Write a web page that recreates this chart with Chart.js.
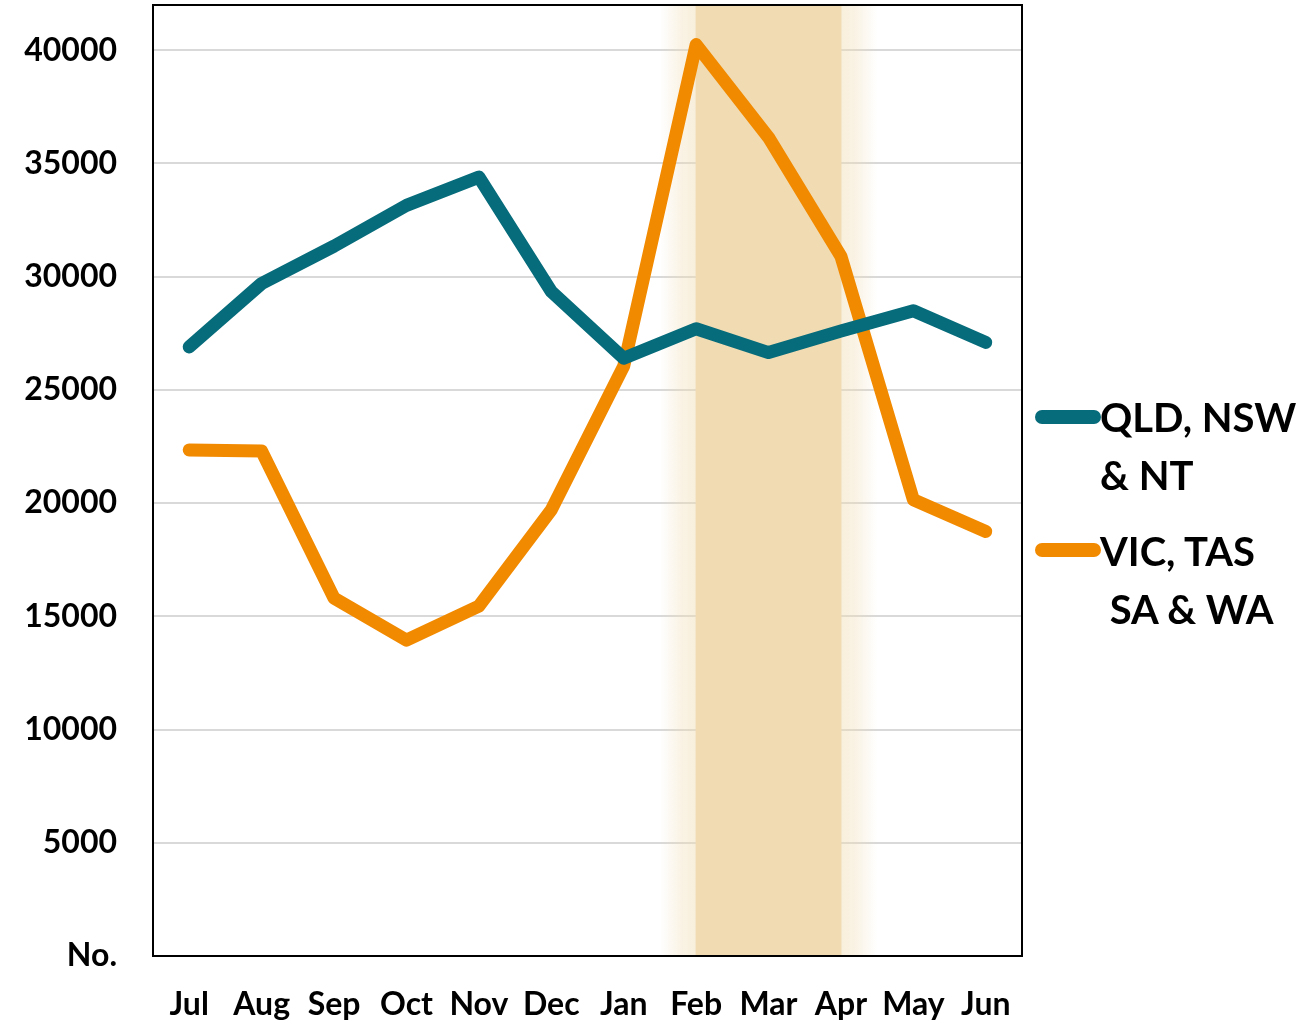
<!DOCTYPE html>
<html>
<head>
<meta charset="utf-8">
<script src="https://cdn.jsdelivr.net/npm/chart.js@4.4.0/dist/chart.umd.min.js"></script>
<style>
  html, body { margin: 0; padding: 0; background: #fff; }
  #wrap { position: relative; width: 1312px; height: 1023px; }
  canvas { position: absolute; left: 0; top: 0; }
  .leg { position: absolute; font-family: Lato, sans-serif; font-weight: 700; font-size: 40px; color: #000; white-space: pre; line-height: 58px; }
  .sw { position: absolute; height: 14px; border-radius: 7px; width: 66px; }
</style>
</head>
<body>
<div id="wrap">
  <canvas id="c" width="1312" height="1023"></canvas>
  <div class="sw" id="sw0" style="left:1035px; top:410px;"></div>
  <div class="leg" id="lg0" style="left:1100px; top:388px;"></div>
  <div class="sw" id="sw1" style="left:1035px; top:543px;"></div>
  <div class="leg" id="lg1" style="left:1100px; top:522px;"></div>
</div>
<script>
const months = ["Jul","Aug","Sep","Oct","Nov","Dec","Jan","Feb","Mar","Apr","May","Jun"];
const seriesNames = ["QLD, NSW\n& NT", "VIC, TAS\n SA & WA"];
const qldNswNt = [26900, 29700, 31350, 33150, 34400, 29350, 26400, 27700, 26650, 27600, 28500, 27100];
const vicTasSaWa = [22350, 22300, 15800, 13950, 15450, 19700, 26050, 40250, 36150, 30900, 20150, 18750];
const seriesColors = ["#066B7A", "#F28A00"];
const yTickValues = [0, 5000, 10000, 15000, 20000, 25000, 30000, 35000, 40000];
const yTickLabels = ["No.", "5000", "10000", "15000", "20000", "25000", "30000", "35000", "40000"];
const highlightStart = "Feb";
const highlightEnd = "Apr";

seriesNames.forEach((n, i) => {
  document.getElementById('lg' + i).textContent = n;
  document.getElementById('sw' + i).style.background = seriesColors[i];
});

const bandPlugin = {
  id: 'band',
  beforeDatasetsDraw(chart) {
    const { ctx, chartArea, scales } = chart;
    const x0 = scales.x.getPixelForValue(months.indexOf(highlightStart));
    const x1 = scales.x.getPixelForValue(months.indexOf(highlightEnd));
    const fade = 36;
    const L = x0 - fade, R = x1 + fade;
    const g = ctx.createLinearGradient(L, 0, R, 0);
    const c = 'rgba(240,219,178,';
    const w = R - L;
    g.addColorStop(0, c + '0)');
    g.addColorStop(fade * 0.6 / w, c + '0.35)');
    g.addColorStop((fade - 1) / w, c + '0.45)');
    g.addColorStop(fade / w, c + '1)');
    g.addColorStop((w - fade) / w, c + '1)');
    g.addColorStop((w - fade + 1) / w, c + '0.45)');
    g.addColorStop((w - fade * 0.6) / w, c + '0.35)');
    g.addColorStop(1, c + '0)');
    ctx.save();
    ctx.fillStyle = g;
    ctx.fillRect(L, chartArea.top, w, chartArea.bottom - chartArea.top);
    ctx.restore();
  }
};

const borderPlugin = {
  id: 'frame',
  afterDatasetsDraw(chart) {
    const { ctx, chartArea } = chart;
    ctx.save();
    ctx.strokeStyle = '#000';
    ctx.lineWidth = 2;
    ctx.strokeRect(chartArea.left, chartArea.top, chartArea.right - chartArea.left, chartArea.bottom - chartArea.top);
    ctx.restore();
  }
};

new Chart(document.getElementById('c'), {
  type: 'line',
  data: {
    labels: months,
    datasets: [
      { label: seriesNames[0], data: qldNswNt, borderColor: seriesColors[0], backgroundColor: seriesColors[0] },
      { label: seriesNames[1], data: vicTasSaWa, borderColor: seriesColors[1], backgroundColor: seriesColors[1] }
    ]
  },
  options: {
    responsive: false,
    animation: false,
    layout: { padding: { top: 5, right: 290, left: 0, bottom: 0 } },
    elements: {
      line: { borderWidth: 13, borderCapStyle: 'round', borderJoinStyle: 'round', tension: 0 },
      point: { radius: 0, hoverRadius: 0 }
    },
    plugins: { legend: { display: false }, tooltip: { enabled: false } },
    scales: {
      x: {
        type: 'category',
        offset: true,
        grid: { display: false, drawTicks: false },
        border: { display: false },
        ticks: { color: '#000', font: { family: 'Lato', weight: 'bold', size: 32 }, padding: 29, maxRotation: 0, autoSkip: false },
        afterFit(s) { s.height = 1023 - 956; s.paddingLeft = 0; s.paddingRight = 0; }
      },
      y: {
        min: 0, max: 42000,
        grid: { color: '#D9D9D9', lineWidth: 2, drawTicks: false },
        border: { display: false },
        afterBuildTicks(s) { s.ticks = yTickValues.map(v => ({ value: v })); },
        ticks: {
          color: '#000', font: { family: 'Lato', weight: 'bold', size: 32 }, padding: 36,
          callback(v) { const i = yTickValues.indexOf(v); return i >= 0 ? yTickLabels[i] : ''; }
        },
        afterFit(s) { s.width = 153; s.paddingTop = 0; s.paddingBottom = 0; }
      }
    }
  },
  plugins: [bandPlugin, borderPlugin]
});
</script>
</body>
</html>
